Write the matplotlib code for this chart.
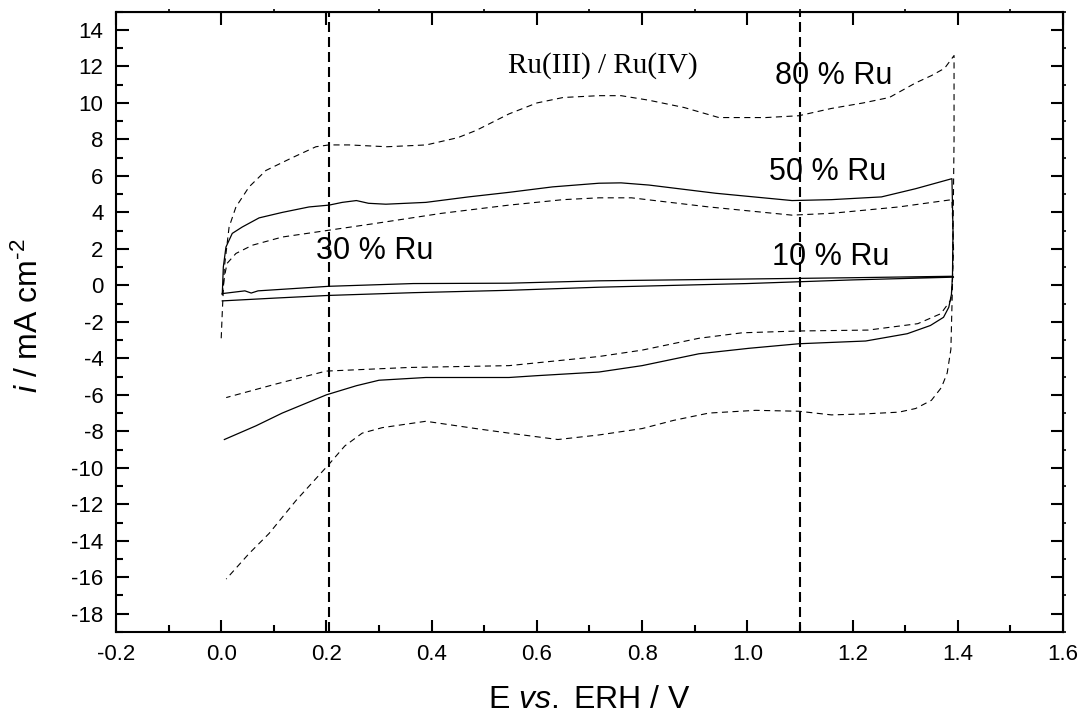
import matplotlib
matplotlib.use("Agg")
import matplotlib.pyplot as plt
from matplotlib.ticker import MultipleLocator

plt.rcParams['font.family'] = ['Liberation Sans', 'DejaVu Sans']
plt.rcParams['mathtext.fontset'] = 'custom'
plt.rcParams['mathtext.rm'] = 'Liberation Sans'
plt.rcParams['mathtext.it'] = 'Liberation Sans:italic'

# cyclic voltammograms, anodic sweep followed by cathodic sweep
ru80_E = [0.0, 0.002, 0.006, 0.015, 0.028, 0.053, 0.085, 0.135, 0.18, 0.205,
          0.243, 0.315, 0.39, 0.45, 0.485, 0.547, 0.60, 0.65, 0.718, 0.76,
          0.813, 0.88, 0.946, 1.035, 1.098, 1.16, 1.22, 1.27, 1.32, 1.35,
          1.375, 1.393,
          1.393, 1.39, 1.387, 1.38, 1.369, 1.35, 1.32, 1.288, 1.22, 1.16,
          1.098, 1.016, 0.927, 0.86, 0.80, 0.718, 0.64, 0.547, 0.484, 0.389,
          0.306, 0.268, 0.235, 0.205, 0.142, 0.091, 0.053, 0.0095]
ru80_i = [-2.9, -1.5, 1.0, 3.2, 4.3, 5.4, 6.3, 7.0, 7.6, 7.7,
          7.7, 7.6, 7.7, 8.1, 8.5, 9.4, 10.0, 10.3, 10.4, 10.4,
          10.15, 9.75, 9.2, 9.2, 9.3, 9.7, 10.0, 10.3, 11.1, 11.5,
          11.9, 12.6,
          8.0, 0.0, -3.5, -4.8, -5.6, -6.3, -6.75, -6.95, -7.05, -7.1,
          -6.9, -6.85, -7.0, -7.4, -7.85, -8.2, -8.45, -8.1, -7.85, -7.45,
          -7.8, -8.1, -8.8, -9.8, -11.8, -13.6, -14.7, -16.1]

ru50_E = [0.002, 0.004, 0.009, 0.021, 0.040, 0.072, 0.116, 0.167, 0.205, 0.230,
          0.257, 0.28, 0.313, 0.389, 0.470, 0.547, 0.63, 0.718, 0.76, 0.813,
          0.94, 1.085, 1.16, 1.255, 1.32, 1.389,
          1.391, 1.39, 1.388, 1.383, 1.373, 1.348, 1.304, 1.225, 1.098, 1.003,
          0.908, 0.80, 0.718, 0.60, 0.547, 0.389, 0.30, 0.257, 0.20, 0.116,
          0.066, 0.006]
ru50_i = [-0.5, 1.0, 2.1, 2.85, 3.2, 3.7, 4.0, 4.3, 4.4, 4.55,
          4.65, 4.5, 4.45, 4.55, 4.85, 5.1, 5.4, 5.6, 5.62, 5.5,
          5.05, 4.65, 4.7, 4.85, 5.3, 5.85,
          3.0, 0.5, -0.5, -1.2, -1.75, -2.2, -2.65, -3.05, -3.2, -3.45,
          -3.75, -4.4, -4.75, -4.95, -5.05, -5.05, -5.2, -5.5, -6.0, -7.0,
          -7.7, -8.45]

ru30_E = [0.002, 0.006, 0.011, 0.028, 0.059, 0.116, 0.199, 0.294, 0.419, 0.547,
          0.65, 0.718, 0.78, 0.927, 1.085, 1.16, 1.288, 1.389,
          1.392, 1.39, 1.387, 1.368, 1.324, 1.23, 1.098, 0.99, 0.908, 0.80,
          0.718, 0.547, 0.357, 0.199, 0.105, 0.0095]
ru30_i = [-0.5, 0.45, 1.2, 1.75, 2.2, 2.65, 3.0, 3.4, 3.95, 4.4,
          4.7, 4.8, 4.8, 4.3, 3.85, 3.95, 4.3, 4.7,
          2.0, 0.3, -0.8, -1.55, -2.1, -2.45, -2.5, -2.6, -2.9, -3.55,
          -3.9, -4.4, -4.5, -4.7, -5.4, -6.15]

ru10_E = [0.002, 0.045, 0.057, 0.07, 0.205, 0.365, 0.547, 0.718, 1.0, 1.2, 1.39,
          1.392, 1.2, 1.0, 0.718, 0.547, 0.365, 0.205, 0.1, 0.002]
ru10_i = [-0.45, -0.3, -0.42, -0.3, -0.05, 0.1, 0.12, 0.25, 0.35, 0.42, 0.5,
          0.45, 0.3, 0.1, -0.1, -0.27, -0.4, -0.55, -0.7, -0.85]

E_marks = [0.205, 1.10]

x_ticklabels = ['-0.2', '0.0', '0.2', '0.4', '0.6', '0.8', '1.0', '1.2', '1.4', '1.6']
y_ticks = list(range(-18, 15, 2))

fig = plt.figure(figsize=(10.81, 7.17), dpi=100)
ax = fig.add_axes([0.1073, 0.1186, 0.876, 0.865])

dash = dict(color='black', lw=0.8, linestyle=(0, (5.5, 4)))
solid = dict(color='black', lw=0.9)
ax.plot(ru80_E, ru80_i, **dash)
ax.plot(ru50_E, ru50_i, **solid)
ax.plot(ru30_E, ru30_i, **dash)
ax.plot(ru10_E, ru10_i, **solid)

for e in E_marks:
    ax.axvline(e, color='black', lw=1.5, linestyle=(0, (4.8, 2.4)))

ax.text(0.726, 12.07, 'Ru(III) / Ru(IV)', family='Liberation Serif',
        fontsize=21, ha='center', va='center')
ax.text(1.164, 11.47, '80 % Ru', fontsize=22, ha='center', va='center')
ax.text(1.153, 6.2, '50 % Ru', fontsize=22, ha='center', va='center')
ax.text(1.159, 1.54, '10 % Ru', fontsize=22, ha='center', va='center')
ax.text(0.292, 1.87, '30 % Ru', fontsize=22, ha='center', va='center')

ax.set_xlim(-0.2, 1.6)
ax.set_ylim(-19, 15)
ax.xaxis.set_minor_locator(MultipleLocator(0.1))
ax.yaxis.set_minor_locator(MultipleLocator(1))
ax.set_xticks([-0.2 + 0.2 * k for k in range(len(x_ticklabels))])
ax.set_xticklabels(x_ticklabels)
ax.set_yticks(y_ticks)
ax.set_yticklabels([str(v) for v in y_ticks])

ax.tick_params(which='major', direction='in', length=9, width=1.5,
               labelsize=16, pad=9)
ax.tick_params(which='minor', direction='in', length=5, width=1.5)
for s in ax.spines.values():
    s.set_linewidth(1.5)

# top and right: long ticks inward, minor ticks small and outward
top = ax.secondary_xaxis('top')
top.xaxis.set_major_locator(MultipleLocator(0.2))
top.xaxis.set_minor_locator(MultipleLocator(0.1))
top.tick_params(which='major', direction='in', length=9, width=1.5, labeltop=False)
top.tick_params(which='minor', direction='out', length=2, width=1.2)
right = ax.secondary_yaxis('right')
right.yaxis.set_major_locator(MultipleLocator(2))
right.yaxis.set_minor_locator(MultipleLocator(1))
right.tick_params(which='major', direction='in', length=9, width=1.5, labelright=False)
right.tick_params(which='minor', direction='out', length=2, width=1.2)

ax.set_xlabel(r'E $\it{vs.}$ ERH / V', fontsize=23)
ax.set_ylabel(r'$\it{i}$ / mA cm$^{\text{-2}}$', fontsize=23)
ax.xaxis.label.set_va('center')
ax.yaxis.label.set_va('center')
ax.xaxis.set_label_coords(0.5, -0.11)
ax.yaxis.set_label_coords(-0.091, 0.51)

fig.savefig('out.png', dpi=100)
